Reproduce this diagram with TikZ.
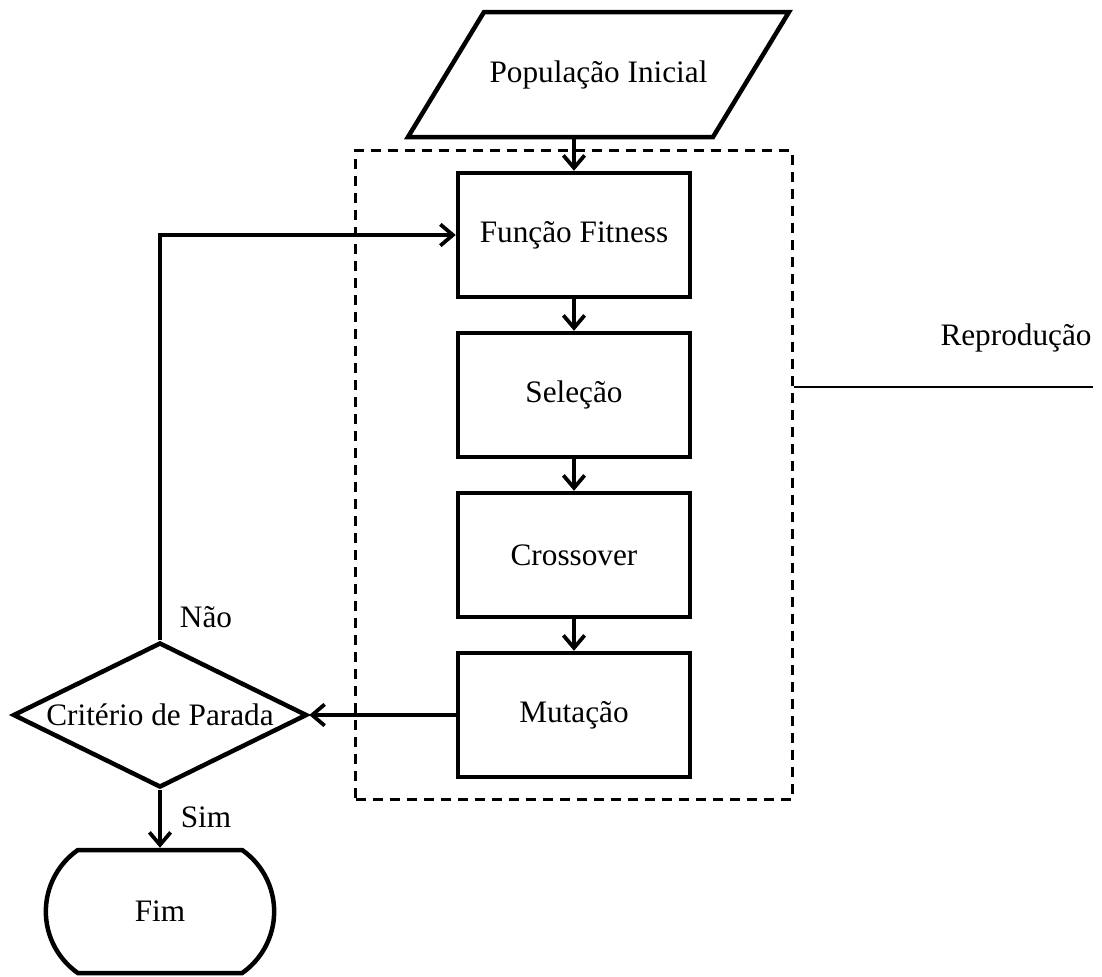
\documentclass[tikz,border=0pt]{standalone}
\usepackage{fontspec}
\setmainfont{Liberation Serif}
\usetikzlibrary{shapes.geometric, shapes.misc, arrows.meta, positioning, fit}

\begin{document}
\begin{tikzpicture}[
        x=0.4pt, y=-0.4pt,
        node distance=12.6pt,
        every node/.style={font=\fontsize{12.5}{15}\selectfont},
        proc/.style={rectangle, draw, line width=1.8pt, minimum width=92.8pt, minimum height=49.6pt, align=center},
        io/.style={rectangle, inner sep=0pt, outer sep=0pt, minimum width=152.4pt, minimum height=50pt},
        iobox/.style={line width=1.8pt, line join=miter},
        decision/.style={diamond, draw, line width=1.8pt, aspect=2, inner sep=0pt, minimum width=117.6pt, minimum height=58pt},
        term/.style={rounded rectangle, rounded rectangle arc length=110, draw, line width=1.8pt, minimum width=98pt, minimum height=49.2pt},
        group/.style={draw, dash pattern=on 4pt off 2.8pt, line width=1.2pt, inner xsep=40pt, inner ysep=8pt},
        arrow/.style={-{Straight Barb[length=5pt, width=8.5pt]}, line width=1.5pt}
    ]
        \useasboundingbox (0,0) rectangle (1102,976);

        % Input (parallelogram drawn round the text node)
        \node[io] (pop) at (598.5,74.5) {População Inicial};
        \draw[iobox] ([xshift=30.4pt]pop.north west) -- (pop.north east)
            -- ([xshift=-30.4pt]pop.south east) -- (pop.south west) -- cycle;

        % Reproduction loop
        \node[proc] (fit) at (574,235) {Função Fitness};
        \node[proc, below=of fit] (sel) {Seleção};
        \node[proc, below=of sel] (cross) {Crossover};
        \node[proc, below=of cross] (mut) {Mutação};

        \node[group, fit=(fit)(mut)] (repr) {};
        \coordinate (reprend) at (1093,387);
        \draw[line width=0.6pt] (repr.east |- reprend) -- (reprend);
        \node (reprlbl) at (1016,338) {Reprodução};

        \draw[arrow] (fit.north |- pop.south) -- (fit.north);
        \draw[arrow] (fit) -- (sel);
        \draw[arrow] (sel) -- (cross);
        \draw[arrow] (cross) -- (mut);

        % Stop test
        \coordinate (leftcol) at (160,0);
        \node[decision] (crit) at (leftcol |- mut.west) {\makebox[0pt]{\raisebox{-4pt}{Critério de Parada}}};
        \node[term] (fim) at (160,911.5) {\raisebox{-4pt}{Fim}};

        \draw[arrow] (mut.west) -- (crit.east);
        \draw[arrow] (crit.north) -- (crit.north |- fit.west) -- (fit.west);
        \draw[arrow] (crit.south) -- (fim.north);

        \node (nao) at (206,617) {Não};
        \node (sim) at (206,817) {Sim};
    \end{tikzpicture}
\end{document}
